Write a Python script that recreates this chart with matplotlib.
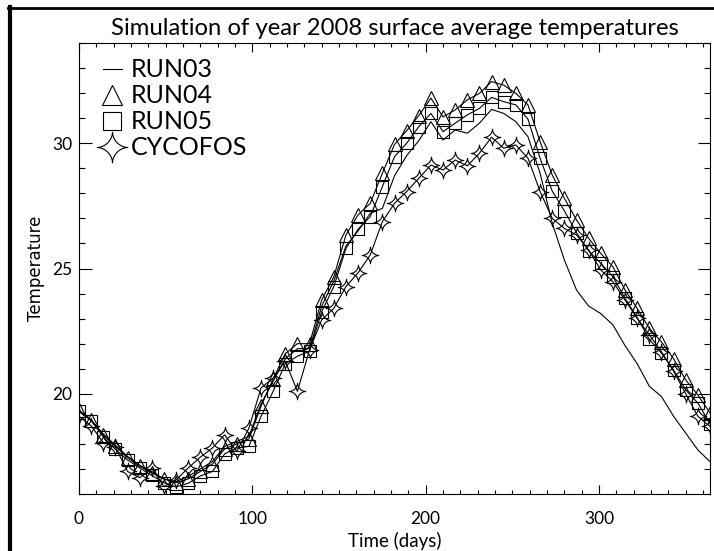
import numpy as np
import matplotlib.pyplot as plt
from matplotlib.path import Path
from matplotlib.lines import Line2D

# weekly samples, day of year
days = np.arange(0, 365, 7)

run03 = [19.3, 18.95, 18.4, 17.95, 17.5, 17.15, 16.9, 16.6, 16.5, 16.7,
         17.0, 17.3, 17.9, 18.1, 18.3, 19.6, 20.5, 21.4, 21.8, 21.8,
         23.5, 24.5, 25.9, 26.5, 27.2, 27.4, 28.7, 29.5, 30.1, 30.86,
         30.13, 30.53, 30.4, 30.8, 31.35, 31.19, 30.86, 30.26, 28.8, 26.8,
         25.34, 24.14, 23.5, 23.2, 22.75, 21.92, 21.2, 20.3, 19.89, 19.1,
         18.43, 17.76, 17.29]
run04 = [19.35, 18.95, 18.35, 17.9, 17.45, 17.1, 16.85, 16.6, 16.45, 16.6,
         16.9, 17.2, 17.8, 18.0, 18.2, 19.5, 20.6, 21.6, 22.0, 22.0,
         23.74, 24.67, 26.34, 27.14, 27.6, 28.8, 29.95, 30.5, 31.1, 31.8,
         31.05, 31.33, 31.73, 31.99, 32.46, 32.32, 31.99, 31.53, 30.06, 28.73,
         27.8, 26.94, 26.2, 25.6, 25.07, 24.14, 23.41, 22.61, 22.07, 21.4,
         20.55, 19.95, 19.24]
run05 = [19.3, 18.93, 18.28, 17.78, 17.36, 17.04, 16.74, 16.45, 16.28, 16.43,
         16.72, 16.9, 17.6, 17.84, 17.9, 19.1, 20.1, 21.2, 21.5, 21.7,
         23.28, 24.28, 25.8, 26.57, 27.07, 28.27, 29.46, 30.0, 30.66, 31.19,
         30.46, 30.8, 31.13, 31.39, 31.83, 31.66, 31.53, 30.96, 29.4, 28.09,
         27.3, 26.43, 25.7, 25.21, 24.67, 23.81, 23.04, 22.17, 21.62, 20.95,
         20.15, 19.63, 18.8]
cycofos = [19.1, 18.72, 18.05, 17.87, 16.9, 16.65, 17.02, 16.3, 16.56, 17.04,
           17.47, 17.84, 18.36, 17.7, 18.62, 20.23, 20.63, 21.3, 20.1, 21.75,
           22.95, 23.41, 24.28, 24.83, 25.54, 26.87, 27.6, 28.07, 28.6, 29.13,
           28.93, 29.33, 29.1, 29.6, 30.24, 29.8, 29.93, 29.4, 28.07, 27.0,
           26.6, 26.34, 25.74, 24.94, 24.47, 23.74, 23.01, 22.35, 21.68, 20.9,
           20.0, 19.1, 18.7]

labels = ["RUN03", "RUN04", "RUN05", "CYCOFOS"]

# four pointed concave star, like the IDL user symbol
t = np.linspace(0, 2 * np.pi, 121)
c, s = np.cos(t), np.sin(t)
p = 3.4
star = Path(np.column_stack([np.sign(c) * np.abs(c) ** p,
                             np.sign(s) * np.abs(s) ** p]), closed=True)

hershey = "Lato"
lw = 0.8

fig = plt.figure(figsize=(7.14, 5.51), dpi=100)
ax = fig.add_axes([79 / 714, 57 / 551, 631 / 714, 451 / 551])

ax.plot(days, run03, color="black", lw=lw)
ax.plot(days, run04, color="black", lw=lw, marker="^", ms=9.5,
        mfc="none", mec="black", mew=lw)
ax.plot(days, run05, color="black", lw=lw, marker="s", ms=8.5,
        mfc="none", mec="black", mew=lw)
ax.plot(days, cycofos, color="black", lw=lw, marker=star, ms=12,
        mfc="none", mec="black", mew=lw)

ax.set_xlim(0, 364)
ax.set_ylim(16, 34)
ax.set_xticks([0, 100, 200, 300])
ax.set_xticks(np.arange(0, 365, 10), minor=True)
ax.set_yticks([20, 25, 30])
ax.set_yticks(np.arange(16, 35, 1), minor=True)

ax.tick_params(axis="both", which="both", direction="in",
               top=True, right=True, width=0.8, color="black")
ax.tick_params(axis="x", which="major", length=6.5, pad=12)
ax.tick_params(axis="x", which="minor", length=3.2)
ax.tick_params(axis="y", which="major", length=9, pad=5)
ax.tick_params(axis="y", which="minor", length=4.5)
for lab in ax.get_xticklabels() + ax.get_yticklabels():
    lab.set_fontfamily(hershey)
    lab.set_fontsize(12.5)
for sp in ax.spines.values():
    sp.set_linewidth(0.8)

ax.set_title("Simulation of year 2008 surface average temperatures",
             fontsize=17.2, family=hershey, pad=5.5)
ax.set_xlabel("Time (days)", fontsize=13.5, family=hershey, labelpad=4)
ax.set_ylabel("Temperature", fontsize=12, family="DejaVu Sans", labelpad=5)

handles = [
    Line2D([], [], color="black", lw=lw),
    Line2D([], [], ls="none", marker="^", ms=14.5, mfc="none", mec="black", mew=lw),
    Line2D([], [], ls="none", marker="s", ms=13.5, mfc="none", mec="black", mew=lw),
    Line2D([], [], ls="none", marker=star, ms=22, mfc="none", mec="black", mew=lw),
]
leg = ax.legend(handles, labels, loc="upper left", bbox_to_anchor=(0.038, 0.966),
                frameon=False, prop={"family": hershey, "size": 18},
                handlelength=0.75, handletextpad=0.35, labelspacing=0.12,
                borderpad=0, borderaxespad=0)

# page frame drawn by the original device
fig.add_artist(Line2D([9.5 / 714, 9.5 / 714], [0, 1 - 7 / 551],
                      transform=fig.transFigure, color="black", lw=3))
fig.add_artist(Line2D([8 / 714, 1], [1 - 8 / 551, 1 - 8 / 551],
                      transform=fig.transFigure, color="black", lw=2))

fig.savefig("out.png", dpi=100)
